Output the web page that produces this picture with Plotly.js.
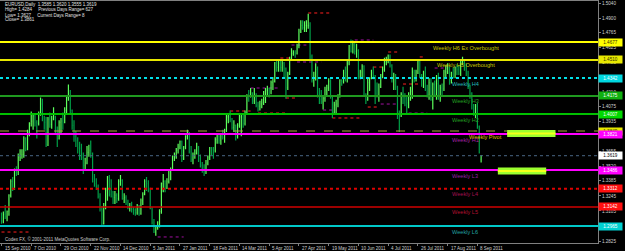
<!DOCTYPE html>
<html>
<head>
<meta charset="utf-8">
<script src="https://cdn.plot.ly/plotly-3.0.1.min.js"></script>
<style>html,body{margin:0;padding:0;background:#000;}#chart{width:625px;height:251px;}</style>
</head>
<body>
<div id="chart"></div>
<script>
// ---- DATA (EURUSD daily, 15 Sep 2010 .. 12 Sep 2011) ----
const dateLabels = ["15 Sep 2010","7 Oct 2010","29 Oct 2010","22 Nov 2010","14 Dec 2010","5 Jan 2011","27 Jan 2011","18 Feb 2011","14 Mar 2011","5 Apr 2011","27 Apr 2011","19 May 2011","10 Jun 2011","4 Jul 2011","26 Jul 2011","17 Aug 2011","8 Sep 2011"];
const priceTickLabels = ["1.5040","1.4900","1.4765","1.4625","1.4485","1.4345","1.4210","1.4075","1.3935","1.3795","1.3655","1.3520","1.3385","1.3245","1.3105","1.2965","1.2825"];

const opens = [
1.3040,1.3010,1.3070,1.3050,1.3100,1.3250,1.3380,1.3310,1.3490,1.3480,1.3605,1.3625,
1.3630,1.3780,1.3680,1.3840,1.3920,1.3940,1.3990,1.3930,1.3920,1.4000,1.4100,1.3970,1.3930,1.3720,1.3960,1.3910,1.3960,1.3980,1.3860,1.3780,1.3930,
1.3940,1.3930,1.4040,1.4160,1.4200,1.4040,1.3900,1.3800,1.3760,1.3690,1.3690,1.3600,1.3530,1.3550,1.3650,1.3670,1.3640,1.3380,1.3360,1.3330,1.3240,1.3120,
1.2990,1.3140,1.3300,1.3420,1.3260,1.3240,1.3230,1.3250,1.3220,1.3380,1.3390,1.3220,1.3230,1.3180,1.3140,1.3150,1.3120,1.3110,1.3090,1.3140,1.3080,1.3200,1.3260,
1.3380,1.3360,1.3300,1.3130,1.3000,1.2910,1.2950,1.2970,1.3100,1.3360,1.3380,1.3320,1.3380,1.3470,1.3490,1.3610,1.3610,1.3670,1.3700,1.3750,1.3590,
1.3700,1.3800,1.3830,1.3660,1.3580,1.3620,1.3640,1.3700,1.3590,1.3530,1.3490,1.3470,1.3550,1.3600,1.3690,1.3680,1.3670,1.3770,1.3800,1.3760,
1.3800,1.3790,1.3860,1.3980,1.3980,1.3960,1.3880,1.3900,1.3800,1.3900,1.3980,1.3980,1.3920,1.4020,1.4180,1.4170,1.4200,1.4130,1.4180,1.4090,1.4080,1.4100,1.4110,
1.4170,1.4230,1.4230,1.4210,1.4300,1.4310,1.4480,1.4440,1.4480,1.4440,1.4480,1.4430,1.4250,1.4380,1.4520,1.4570,1.4580,1.4570,1.4640,1.4780,1.4830,
1.4810,1.4830,1.4830,1.4830,1.4540,1.4320,1.4340,1.4420,1.4180,1.4140,1.4120,1.4150,1.4230,1.4250,1.4310,1.4160,1.4020,1.4090,1.4100,1.4180,1.4320,1.4310,
1.4390,1.4340,1.4480,1.4640,1.4590,1.4650,1.4590,1.4600,1.4350,1.4400,1.4450,1.4180,1.4140,1.4300,1.4340,1.4390,1.4360,1.4200,1.4180,1.4260,1.4370,1.4420,
1.4500,1.4520,1.4520,1.4460,1.4330,1.4370,1.4260,1.4000,1.3990,1.4190,1.4160,1.4150,1.4110,1.4170,1.4220,1.4400,1.4360,1.4400,1.4500,1.4360,1.4350,
1.4390,1.4240,1.4190,1.4300,1.4140,1.4280,1.4190,1.4290,1.4170,1.4250,1.4240,1.4400,1.4400,1.4440,1.4320,1.4390,1.4370,1.4440,1.4420,1.4380,1.4490,1.4500,1.4440,
1.4380,1.4250,1.4200,1.4090,1.4000,1.4080,1.3890,1.3585];
const highs = [
1.3090,1.3100,1.3160,1.3110,1.3260,1.3400,1.3420,1.3500,1.3520,1.3640,1.3680,1.3680,
1.3800,1.3790,1.3860,1.3930,1.4030,1.4000,1.4000,1.3950,1.4030,1.4160,1.4150,1.3990,1.3980,1.3980,1.4020,1.3990,1.4070,1.3990,1.3890,1.3950,1.3970,
1.4020,1.4070,1.4170,1.4282,1.4230,1.4050,1.3950,1.3850,1.3790,1.3750,1.3730,1.3650,1.3600,1.3710,1.3720,1.3760,1.3650,1.3450,1.3410,1.3350,1.3270,1.3150,
1.3180,1.3320,1.3430,1.3440,1.3400,1.3290,1.3290,1.3270,1.3400,1.3440,1.3400,1.3270,1.3250,1.3210,1.3180,1.3190,1.3140,1.3130,1.3170,1.3160,1.3220,1.3280,1.3400,
1.3420,1.3390,1.3320,1.3140,1.3030,1.2970,1.3010,1.3120,1.3370,1.3450,1.3390,1.3410,1.3480,1.3510,1.3620,1.3650,1.3690,1.3730,1.3760,1.3760,1.3710,
1.3810,1.3860,1.3840,1.3710,1.3650,1.3680,1.3740,1.3710,1.3630,1.3560,1.3540,1.3580,1.3620,1.3700,1.3700,1.3700,1.3790,1.3830,1.3820,1.3820,
1.3860,1.3870,1.4000,1.4010,1.4040,1.3970,1.3950,1.3910,1.3920,1.4000,1.4010,1.4010,1.4040,1.4190,1.4230,1.4250,1.4210,1.4250,1.4200,1.4120,1.4130,1.4150,1.4220,
1.4250,1.4270,1.4250,1.4320,1.4350,1.4490,1.4520,1.4500,1.4510,1.4500,1.4490,1.4440,1.4400,1.4540,1.4620,1.4600,1.4600,1.4660,1.4800,1.4880,1.4880,
1.4870,1.4880,1.4940,1.4860,1.4560,1.4400,1.4480,1.4450,1.4250,1.4230,1.4170,1.4260,1.4280,1.4340,1.4330,1.4170,1.4120,1.4140,1.4190,1.4330,1.4330,1.4420,
1.4450,1.4500,1.4650,1.4700,1.4690,1.4670,1.4660,1.4610,1.4420,1.4470,1.4460,1.4200,1.4340,1.4350,1.4420,1.4450,1.4370,1.4300,1.4290,1.4380,1.4450,1.4530,
1.4540,1.4560,1.4560,1.4470,1.4390,1.4380,1.4270,1.4040,1.4210,1.4260,1.4200,1.4170,1.4210,1.4260,1.4440,1.4420,1.4420,1.4520,1.4510,1.4380,1.4410,
1.4450,1.4280,1.4340,1.4340,1.4300,1.4320,1.4370,1.4390,1.4280,1.4290,1.4420,1.4460,1.4480,1.4450,1.4400,1.4440,1.4450,1.4470,1.4460,1.4520,1.4540,1.4520,
1.4480,1.4410,1.4280,1.4210,1.4100,1.4100,1.4110,1.3900,1.3620];
const lows = [
1.2985,1.2990,1.3030,1.3010,1.3060,1.3230,1.3290,1.3300,1.3430,1.3440,1.3570,1.3590,
1.3600,1.3660,1.3670,1.3800,1.3890,1.3860,1.3890,1.3780,1.3900,1.3990,1.3940,1.3860,1.3700,1.3710,1.3880,1.3870,1.3950,1.3830,1.3700,1.3770,1.3820,
1.3860,1.3920,1.4000,1.4130,1.4000,1.3860,1.3750,1.3700,1.3640,1.3580,1.3580,1.3450,1.3490,1.3540,1.3610,1.3600,1.3370,1.3330,1.3300,1.3220,1.3100,1.2968,
1.2980,1.3120,1.3200,1.3240,1.3230,1.3170,1.3170,1.3180,1.3200,1.3340,1.3210,1.3180,1.3160,1.3120,1.3100,1.3090,1.3070,1.3060,1.3070,1.3060,1.3070,1.3160,1.3250,
1.3290,1.3280,1.3120,1.2980,1.2900,1.2874,1.2930,1.2950,1.3080,1.3280,1.3280,1.3310,1.3360,1.3390,1.3480,1.3570,1.3590,1.3640,1.3680,1.3560,1.3580,
1.3680,1.3770,1.3640,1.3560,1.3540,1.3590,1.3630,1.3560,1.3510,1.3460,1.3430,1.3450,1.3530,1.3580,1.3620,1.3590,1.3650,1.3730,1.3730,1.3720,
1.3770,1.3740,1.3840,1.3920,1.3930,1.3860,1.3840,1.3760,1.3780,1.3880,1.3800,1.3880,1.3900,1.4010,1.4120,1.4160,1.4100,1.4100,1.4070,1.4030,1.4040,1.4060,1.4090,
1.4110,1.4180,1.4160,1.4190,1.4230,1.4300,1.4400,1.4400,1.4400,1.4400,1.4350,1.4150,1.4230,1.4370,1.4510,1.4550,1.4530,1.4560,1.4620,1.4760,1.4790,
1.4770,1.4770,1.4800,1.4500,1.4300,1.4260,1.4320,1.4160,1.4100,1.4100,1.4050,1.4120,1.4180,1.4220,1.4150,1.3970,1.4010,1.4000,1.4070,1.4160,1.4270,1.4290,
1.4310,1.4300,1.4460,1.4580,1.4570,1.4560,1.4530,1.4330,1.4330,1.4350,1.4170,1.4100,1.4130,1.4220,1.4330,1.4330,1.4100,1.4160,1.4120,1.4250,1.4340,1.4400,
1.4460,1.4480,1.4440,1.4300,1.4230,1.4230,1.3960,1.3840,1.3980,1.4100,1.4080,1.4000,1.4060,1.4130,1.4150,1.4300,1.4310,1.4380,1.4340,1.4260,1.4250,
1.4220,1.4160,1.4140,1.4130,1.4050,1.4170,1.4140,1.4140,1.4120,1.4180,1.4220,1.4350,1.4380,1.4280,1.4290,1.4340,1.4340,1.4370,1.4370,1.4360,1.4460,1.4410,
1.4360,1.4240,1.4150,1.4050,1.3990,1.3970,1.3870,1.3640,1.3555];
const closes = [
1.3010,1.3070,1.3050,1.3100,1.3250,1.3380,1.3310,1.3490,1.3480,1.3605,1.3625,1.3630,
1.3780,1.3680,1.3840,1.3920,1.3940,1.3990,1.3930,1.3920,1.4000,1.4100,1.3970,1.3930,1.3720,1.3960,1.3910,1.3960,1.3980,1.3860,1.3780,1.3930,1.3940,
1.3930,1.4040,1.4160,1.4200,1.4040,1.3900,1.3800,1.3760,1.3690,1.3690,1.3600,1.3530,1.3550,1.3650,1.3670,1.3640,1.3380,1.3360,1.3330,1.3240,1.3120,1.2990,
1.3140,1.3300,1.3420,1.3260,1.3240,1.3230,1.3250,1.3220,1.3380,1.3390,1.3220,1.3230,1.3180,1.3140,1.3150,1.3120,1.3110,1.3090,1.3140,1.3080,1.3200,1.3260,1.3380,
1.3360,1.3300,1.3130,1.3000,1.2910,1.2950,1.2970,1.3100,1.3360,1.3380,1.3320,1.3380,1.3470,1.3490,1.3610,1.3610,1.3670,1.3700,1.3750,1.3590,1.3700,
1.3800,1.3830,1.3660,1.3580,1.3620,1.3640,1.3700,1.3590,1.3530,1.3490,1.3470,1.3550,1.3600,1.3690,1.3680,1.3670,1.3770,1.3800,1.3760,1.3800,
1.3790,1.3860,1.3980,1.3980,1.3960,1.3880,1.3900,1.3800,1.3900,1.3980,1.3980,1.3920,1.4020,1.4180,1.4170,1.4200,1.4130,1.4180,1.4090,1.4080,1.4100,1.4110,1.4170,
1.4230,1.4230,1.4210,1.4300,1.4310,1.4480,1.4440,1.4480,1.4440,1.4480,1.4430,1.4250,1.4380,1.4520,1.4570,1.4580,1.4570,1.4640,1.4780,1.4830,1.4810,
1.4830,1.4830,1.4830,1.4540,1.4320,1.4340,1.4420,1.4180,1.4140,1.4120,1.4150,1.4230,1.4250,1.4310,1.4160,1.4020,1.4090,1.4100,1.4180,1.4320,1.4310,1.4390,
1.4340,1.4480,1.4640,1.4590,1.4650,1.4590,1.4600,1.4350,1.4400,1.4450,1.4180,1.4140,1.4300,1.4340,1.4390,1.4360,1.4200,1.4180,1.4260,1.4370,1.4420,1.4500,
1.4520,1.4520,1.4460,1.4330,1.4370,1.4260,1.4000,1.3990,1.4190,1.4160,1.4150,1.4110,1.4170,1.4220,1.4400,1.4360,1.4400,1.4500,1.4360,1.4350,1.4390,
1.4240,1.4190,1.4300,1.4140,1.4280,1.4190,1.4290,1.4170,1.4250,1.4240,1.4400,1.4400,1.4440,1.4320,1.4390,1.4370,1.4440,1.4420,1.4380,1.4490,1.4500,1.4440,1.4380,
1.4250,1.4200,1.4090,1.4000,1.4080,1.3890,1.3650,1.3619];

// Weekly levels drawn as horizontal lines
const levelNames  = ["Weekly H6 Ex Overbought","Weekly H5 Overbought","Weekly H4","Weekly H3","Weekly H2","Weekly Pivot","Weekly H1","Weekly L3","Weekly L4","Weekly L5","Weekly L6"];
const levelValues = [1.4677,1.4510,1.4342,1.4175,1.4007,1.3849,1.3821,1.3486,1.3312,1.3142,1.2965];
const currentPrice = 1.3619;

// Short dotted range markers (bar index start/end, price)
const redMarkStart = [0, 123, 138, 150, 165, 153, 178, 200, 197, 208, 225, 216];
const redMarkEnd   = [15, 134, 153, 156, 177, 159, 194, 206, 203, 214, 228, 225];
const redMarkPrice = [1.2909, 1.4035, 1.4016, 1.4528, 1.4947, 1.4156, 1.3970, 1.4444, 1.4072, 1.4584, 1.4538, 1.4286];
const purpleMarkStart = [84, 134, 156, 159, 173, 190, 204, 233, 219];
const purpleMarkEnd   = [98, 150, 164, 172, 178, 200, 213, 240, 229];
const purpleMarkPrice = [1.2863, 1.4249, 1.4649, 1.4491, 1.4044, 1.4696, 1.4100, 1.4435, 1.4016];

// Highlight zones (bar index start/end, price top/bottom)
const zoneStart  = [272, 267];
const zoneEnd    = [298, 293];
const zoneTop    = [1.3858, 1.3509];
const zoneBottom = [1.3793, 1.3444];

const headerLines = ["EURUSD,Daily  1.3585 1.3620 1.3555 1.3619","High= 1.4284     Previous Days Range= 627","Low= 1.3627     Current Days Range= 8","Close= 1.3861"];
const footerText = "Codex FX, © 2001-2011 MetaQuotes Software Corp.";

// ---- STYLES ----
const levelStyle = [
  {c:'#ffff00', w:2,   d:'solid', tc:'#c8c800', lx:431, box:'#ffff00', bt:'#303000'},
  {c:'#e8e800', w:2,   d:'solid', tc:'#c8c800', lx:435, box:'#e8e800', bt:'#303000'},
  {c:'#00e0e8', w:2,   d:'dot',   tc:'#20b8b8', lx:450, box:'#00d8e0', bt:'#ffffff'},
  {c:'#1f9a1f', w:2,   d:'solid', tc:'#22a022', lx:450, box:'#10b010', bt:'#ffffff'},
  {c:'#00c000', w:2,   d:'solid', tc:'#22a022', lx:450, box:'#00d800', bt:'#ffffff'},
  {c:'#b0a040', w:1,   d:'dash',  tc:'#e0c000', lx:467, box:'#e8e800', bt:'#303000'},
  {c:'#ff00ff', w:2,   d:'solid', tc:'#a020a0', lx:450, box:'#ff00ff', bt:'#ffffff'},
  {c:'#ff00ff', w:2,   d:'solid', tc:'#9a20a8', lx:450, box:'#ff00ff', bt:'#ffffff'},
  {c:'#e00000', w:2,   d:'dot',   tc:'#a01050', lx:450, box:'#ff1010', bt:'#ffffff'},
  {c:'#d00000', w:1.5, d:'solid', tc:'#b01030', lx:450, box:'#ff1010', bt:'#ffffff'},
  {c:'#00c8c8', w:2,   d:'solid', tc:'#20a0a0', lx:450, box:'#00d0d0', bt:'#ffffff'}
];
const FONT = 'Liberation Sans, Arial, sans-serif';
const W = 625, H = 251, PL = 0, PR = 598, PT = 1, PB = 243;
const xIdx = closes.map((_, i) => i);
const pxPerBar = 1.859, x0px = 1.5;
const xRange = [(PL - x0px) / pxPerBar, (PR - x0px) / pxPerBar];
const yRange = [1.28068, 1.50586];
const paperY = py => (PB - py) / (PB - PT);

const shapes = [];
const annotations = [];
levelValues.forEach((v, k) => {
  const s = levelStyle[k];
  shapes.push({type:'line', xref:'paper', x0:0, x1:1, yref:'y', y0:v, y1:v, line:{color:s.c, width:s.w, dash:s.d}, layer:'above'});
  annotations.push({xref:'paper', x:s.lx / PR, xanchor:'left', yref:'y', y:v, yanchor:'top', yshift:-0.5, text:levelNames[k], showarrow:false, font:{family:FONT, size:5.6, color:s.tc}});
  annotations.push({xref:'paper', x:1, xanchor:'left', xshift:0, yref:'y', y:v, yanchor:'middle', text:v.toFixed(4), showarrow:false, bgcolor:s.box, borderpad:0.5, width:22, height:5.5, font:{family:FONT, size:4.6, color:s.bt}});
});
// current price line
shapes.push({type:'line', xref:'paper', x0:0, x1:1, yref:'y', y0:currentPrice, y1:currentPrice, line:{color:'#4a6684', width:1, dash:'dot'}, layer:'above'});
annotations.push({xref:'paper', x:1, xanchor:'left', yref:'y', y:currentPrice, yanchor:'middle', text:currentPrice.toFixed(4), showarrow:false, bgcolor:'#ffffff', borderpad:0.5, width:22, height:5.5, font:{family:FONT, size:4.6, color:'#000000'}});
// range markers
redMarkStart.forEach((s, k) => {
  shapes.push({type:'line', xref:'x', yref:'y', x0:s, x1:redMarkEnd[k], y0:redMarkPrice[k], y1:redMarkPrice[k], line:{color:'#ff2020', width:1, dash:'dot'}, layer:'below'});
});
purpleMarkStart.forEach((s, k) => {
  shapes.push({type:'line', xref:'x', yref:'y', x0:s, x1:purpleMarkEnd[k], y0:purpleMarkPrice[k], y1:purpleMarkPrice[k], line:{color:'#a010a0', width:1, dash:'dot'}, layer:'below'});
});
// zones
zoneStart.forEach((s, k) => {
  const t = zoneTop[k], b = zoneBottom[k], h = t - b;
  shapes.push({type:'rect', xref:'x', yref:'y', x0:s, x1:zoneEnd[k], y0:b, y1:t, fillcolor:'#9cff2e', line:{width:0}, layer:'above'});
  shapes.push({type:'rect', xref:'x', yref:'y', x0:s, x1:zoneEnd[k], y0:b + h * 0.35, y1:b + h * 0.65, fillcolor:'#f4ff1a', line:{width:0}, layer:'above'});
});
// header
headerLines.forEach((t, k) => {
  annotations.push({xref:'paper', x:3 / PR, xanchor:'left', yref:'paper', y:paperY(5 + k * 5), yanchor:'middle', text:t, showarrow:false, font:{family:FONT, size:4.5, color:'#e0e0e0'}});
});
annotations.push({xref:'paper', x:3 / PR, xanchor:'left', yref:'paper', y:paperY(239), yanchor:'middle', text:footerText, showarrow:false, font:{family:FONT, size:4.5, color:'#d0d0d0'}});

// date labels drawn just under the frame, left-aligned at their tick
dateLabels.forEach((t, k) => {
  annotations.push({xref:'x', x:k * 16, xanchor:'left', xshift:1, yref:'paper', y:0, yanchor:'top', yshift:-1, text:t, showarrow:false, font:{family:FONT, size:4.5, color:'#d0d0d0'}});
});

const trace = {
  type:'ohlc', x:xIdx, open:opens, high:highs, low:lows, close:closes,
  increasing:{line:{color:'#5cff5c', width:1.2}},
  decreasing:{line:{color:'#00a048', width:1.2}},
  tickwidth:0.35, hoverinfo:'skip', showlegend:false
};

const layout = {
  width:W, height:H, paper_bgcolor:'#000000', plot_bgcolor:'#000000',
  margin:{l:PL, r:W - PR, t:PT, b:H - PB, pad:0},
  showlegend:false,
  xaxis:{range:xRange, rangeslider:{visible:false}, showgrid:false, zeroline:false, showline:true, linecolor:'#808080', linewidth:1, mirror:true,
         tickvals:dateLabels.map((_, k) => k * 16), ticktext:dateLabels.map(() => ''), ticks:'outside', ticklen:2, tickcolor:'#808080',
         fixedrange:true, automargin:false},
  yaxis:{side:'right', range:yRange, showgrid:false, zeroline:false, showline:true, linecolor:'#808080', linewidth:1,
         tickvals:priceTickLabels.map(Number), ticktext:priceTickLabels, ticks:'outside', ticklen:2, tickcolor:'#808080',
         tickfont:{family:FONT, size:4.6, color:'#d0d0d0'}, fixedrange:true, automargin:false},
  shapes:shapes, annotations:annotations
};
Plotly.newPlot('chart', [trace], layout, {displayModeBar:false, staticPlot:true});
</script>
</body>
</html>
